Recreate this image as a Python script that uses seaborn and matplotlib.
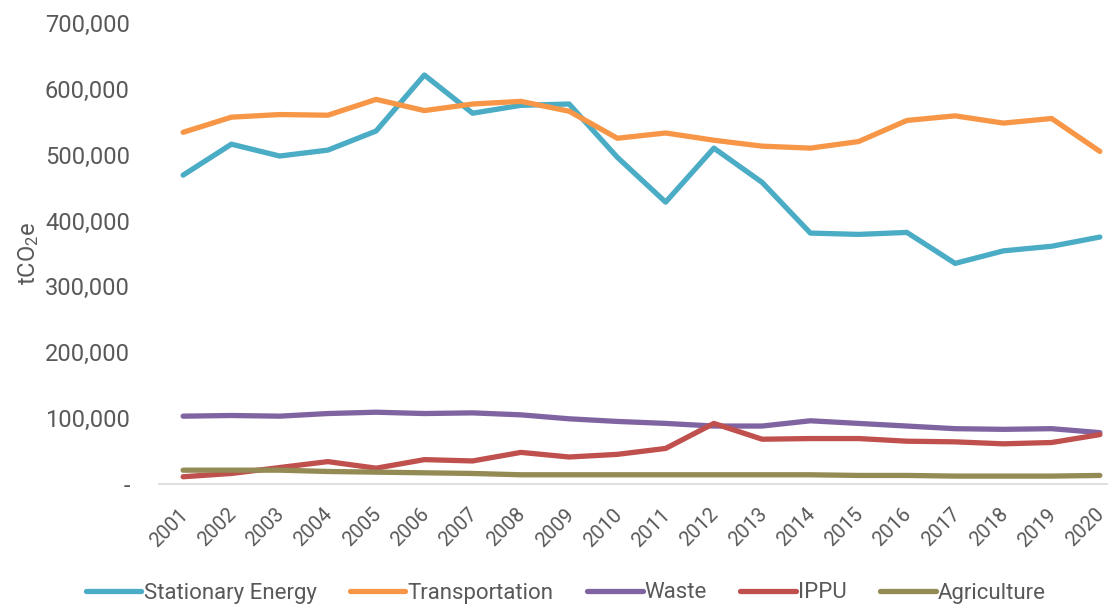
import pandas as pd
import seaborn as sns
import matplotlib.pyplot as plt
import matplotlib.transforms as mtransforms
from matplotlib.ticker import FuncFormatter

years = [str(y) for y in range(2001, 2021)]
stationary_energy = [469000, 516000, 498000, 507000, 536000, 621000, 563000, 575000, 577000, 496000,
                     428000, 510000, 458000, 381000, 379000, 382000, 335000, 354000, 361000, 375000]
transportation = [534000, 557000, 561000, 560000, 584000, 567000, 577000, 581000, 566000, 525000,
                  533000, 522000, 513000, 510000, 520000, 552000, 559000, 548000, 555000, 505000]
waste = [103000, 104000, 103000, 107000, 109000, 107000, 108000, 105000, 99000, 95000,
         92000, 88000, 88000, 96000, 92000, 88000, 84000, 83000, 84000, 78000]
ippu = [11000, 16000, 25000, 34000, 24000, 37000, 35000, 48000, 41000, 45000,
        54000, 92000, 68000, 69000, 69000, 65000, 64000, 61000, 63000, 75000]
agriculture = [21000, 21000, 21000, 19000, 18000, 17000, 16000, 14000, 14000, 14000,
               14000, 14000, 14000, 14000, 13000, 13000, 12000, 12000, 12000, 13000]

sectors = ["Stationary Energy", "Transportation", "Waste", "IPPU", "Agriculture"]
colors = ["#4BACC6", "#F79646", "#8064A2", "#C0504D", "#948A54"]

df = pd.DataFrame({"Year": years, "Stationary Energy": stationary_energy,
                   "Transportation": transportation, "Waste": waste,
                   "IPPU": ippu, "Agriculture": agriculture})
long_df = df.melt(id_vars="Year", var_name="Sector", value_name="tCO2e")

sns.set_style("white")
plt.rcParams["font.family"] = ["Roboto", "DejaVu Sans"]
plt.rcParams["mathtext.default"] = "regular"

grey = "#595959"
fig = plt.figure(figsize=(11.08, 6.05), dpi=100)
ax = fig.add_axes([159 / 1108, 121 / 605, 965 / 1108, 461 / 605])

sns.lineplot(data=long_df, x="Year", y="tCO2e", hue="Sector", hue_order=sectors,
             palette=colors, linewidth=3.8, ax=ax, sort=False)
for line in ax.lines:
    line.set_solid_capstyle("round")

ax.set_xlim(-0.5, 19.5)
ax.set_ylim(0, 700000)
ax.set_yticks(range(0, 700001, 100000))
ax.yaxis.set_major_formatter(FuncFormatter(lambda v, p: "-" if v == 0 else f"{int(v):,}"))
ax.tick_params(axis="y", length=0, labelsize=17, labelcolor=grey, pad=21)
ax.tick_params(axis="x", length=0, labelsize=14.5, labelcolor=grey, pad=15)
# shift year labels a little left so 2020 stays inside the figure
shift = mtransforms.ScaledTranslation(-5 / 100, 0, fig.dpi_scale_trans)
for lbl in ax.get_xticklabels():
    lbl.set_rotation(45)
    lbl.set_ha("right")
    lbl.set_rotation_mode("anchor")
    lbl.set_transform(lbl.get_transform() + shift)
ax.set_xlabel("")
ax.set_ylabel("tCO$_2$e", fontsize=17, color=grey)
ax.yaxis.set_label_coords(-0.122, 0.5)

for side in ["top", "right", "left"]:
    ax.spines[side].set_visible(False)
ax.spines["bottom"].set_color("#D9D9D9")
ax.spines["bottom"].set_linewidth(1.2)

ax.legend(loc="center", bbox_to_anchor=(566 / 1108, 12 / 605), bbox_transform=fig.transFigure,
          ncol=5, frameon=False, fontsize=16, labelcolor=grey, handlelength=2.5,
          handletextpad=0.1, columnspacing=1.5)

fig.savefig("out.png", dpi=100)
